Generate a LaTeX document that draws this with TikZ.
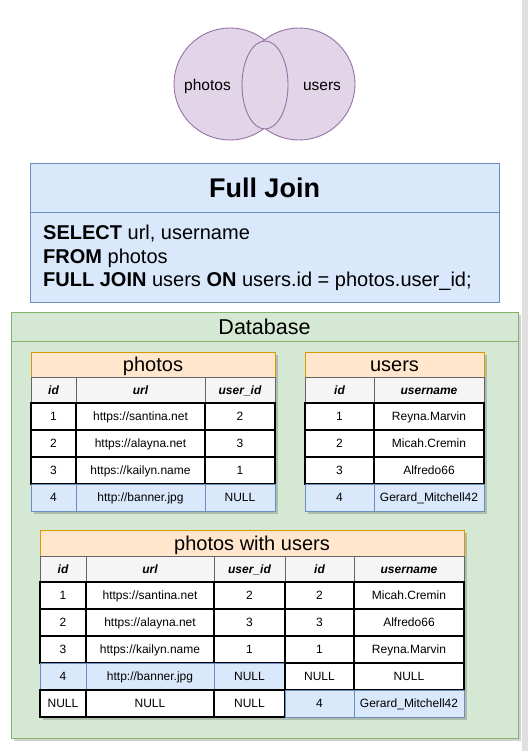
\documentclass[tikz,border=0pt]{standalone}
\usepackage{fontspec}
\setmainfont{Liberation Sans}
\usepackage{xcolor}
\usepackage{tikz}
\usetikzlibrary{shapes.geometric}
\definecolor{vennfill}{HTML}{E1D5E7}
\definecolor{vennline}{HTML}{9673A6}
\definecolor{bluefill}{HTML}{DAE8FC}
\definecolor{blueline}{HTML}{6C8EBF}
\definecolor{greenfill}{HTML}{D5E8D4}
\definecolor{greenline}{HTML}{82B366}
\definecolor{orangefill}{HTML}{FFE6CC}
\definecolor{orangeline}{HTML}{D79B00}
\definecolor{headfill}{HTML}{F5F5F5}
\definecolor{headline}{HTML}{666666}
\tikzset{
  vennset/.style={circle, draw=vennline, fill=vennfill, line width=0.9pt, minimum size=112pt, inner sep=0pt},
  vennjoin/.style={ellipse, draw=vennline, fill=vennfill, line width=0.9pt, minimum width=46pt, minimum height=88pt, inner sep=0pt},
  vennlabel/.style={font=\fontsize{15.5}{18}\selectfont, text height=11.2pt, text depth=0pt},
  querybox/.style={draw=blueline, fill=bluefill, line width=0.9pt, anchor=north west, inner sep=0pt, outer sep=0pt},
  dbbox/.style={draw=greenline, fill=greenfill, line width=0.9pt, anchor=north west, inner sep=0pt, outer sep=0pt},
  dropshade/.style={fill=black, opacity=0.18},
  tabtitle/.style={draw=orangeline, fill=orangefill, line width=0.9pt, anchor=north west, inner sep=0pt, outer sep=0pt,
    minimum height=25pt, font=\fontsize{20}{24}\selectfont, text height=14.4pt, text depth=0pt},
  colhead/.style={draw=headline, fill=headfill, line width=0.9pt, anchor=north west, inner sep=0pt, outer sep=0pt,
    minimum height=26pt, font=\fontsize{12}{14}\selectfont\bfseries\itshape, text height=8.6pt, text depth=0pt},
  cell/.style={draw=black, fill=white, line width=1.3pt, anchor=north west, inner sep=0pt, outer sep=0pt,
    minimum height=27pt, font=\fontsize{12}{14}\selectfont, text height=8.6pt, text depth=0pt},
  hicell/.style={cell, draw=blueline, fill=bluefill, line width=1pt},
}

\begin{document}
\begin{tikzpicture}[x=1pt, y=-1pt]
\useasboundingbox (0,0) rectangle (528,751);
\fill[white] (0,0) rectangle (528,751);

% venn diagram
\node[vennset] (photoset) at (230,84) {};
\node[vennset] (userset) at (299,84) {};
\node[vennjoin] (joinset) at (265,85) {};
\node[vennlabel] (photolabel) at (207.5,85) {photos};
\node[vennlabel] (userlabel) at (322,85) {users};

% query box
\node[querybox, minimum width=469pt, minimum height=49pt, font=\fontsize{27}{30}\selectfont\bfseries,
  text height=19.4pt, text depth=0pt] (qhead) at (30,163) {Full Join};
\node[querybox, minimum width=469pt, minimum height=90pt] (qbody) at (30,212) {};
\node[anchor=west, align=left, inner sep=0pt, font=\fontsize{20}{23.5}\selectfont] (query) at (43,258)
  {\textbf{SELECT} url, username\\ \textbf{FROM} photos\\ \textbf{FULL JOIN} users \textbf{ON} users.id = photos.user\_id;};

% database container
\fill[dropshade] (14,315) rectangle (521,741);
\node[dbbox, minimum width=507pt, minimum height=29pt, font=\fontsize{21.5}{25}\selectfont,
  text height=15.5pt, text depth=0pt] (dbhead) at (11,312) {Database};
\node[dbbox, minimum width=507pt, minimum height=397pt] (dbbody) at (11,341) {};

% photos table
\fill[dropshade] (34,355) rectangle (278,514);
\node[tabtitle, minimum width=244pt] (ptitle) at (31,352) {photos};
\node[colhead, minimum width=45pt] (ph1) at (31,377) {id};
\node[colhead, minimum width=129pt] (ph2) at (76,377) {url};
\node[colhead, minimum width=70pt] (ph3) at (205,377) {user\_id};
\node[cell, minimum width=45pt] (p11) at (31,403) {1};
\node[cell, minimum width=129pt] (p12) at (76,403) {https://santina.net};
\node[cell, minimum width=70pt] (p13) at (205,403) {2};
\node[cell, minimum width=45pt] (p21) at (31,430) {2};
\node[cell, minimum width=129pt] (p22) at (76,430) {https://alayna.net};
\node[cell, minimum width=70pt] (p23) at (205,430) {3};
\node[cell, minimum width=45pt] (p31) at (31,457) {3};
\node[cell, minimum width=129pt] (p32) at (76,457) {https://kailyn.name};
\node[cell, minimum width=70pt] (p33) at (205,457) {1};
\node[hicell, minimum width=45pt] (p41) at (31,484) {4};
\node[hicell, minimum width=129pt] (p42) at (76,484) {http://banner.jpg};
\node[hicell, minimum width=70pt] (p43) at (205,484) {NULL};

% users table
\fill[dropshade] (308,355) rectangle (487,514);
\node[tabtitle, minimum width=179pt] (utitle) at (305,352) {users};
\node[colhead, minimum width=69pt] (uh1) at (305,377) {id};
\node[colhead, minimum width=110pt] (uh2) at (374,377) {username};
\node[cell, minimum width=69pt] (u11) at (305,403) {1};
\node[cell, minimum width=110pt] (u12) at (374,403) {Reyna.Marvin};
\node[cell, minimum width=69pt] (u21) at (305,430) {2};
\node[cell, minimum width=110pt] (u22) at (374,430) {Micah.Cremin};
\node[cell, minimum width=69pt] (u31) at (305,457) {3};
\node[cell, minimum width=110pt] (u32) at (374,457) {Alfredo66};
\node[hicell, minimum width=69pt] (u41) at (305,484) {4};
\node[hicell, minimum width=110pt] (u42) at (374,484) {Gerard\_Mitchell42};

% photos with users table
\fill[dropshade] (43,533) rectangle (467,720);
\node[tabtitle, minimum width=424pt, minimum height=26pt] (rtitle) at (40,530) {photos with users};
\node[colhead, minimum width=46pt] (rh1) at (40,556) {id};
\node[colhead, minimum width=128pt] (rh2) at (86,556) {url};
\node[colhead, minimum width=71pt] (rh3) at (214,556) {user\_id};
\node[colhead, minimum width=69pt] (rh4) at (285,556) {id};
\node[colhead, minimum width=110pt] (rh5) at (354,556) {username};
\node[cell, minimum width=46pt] (r11) at (40,582) {1};
\node[cell, minimum width=128pt] (r12) at (86,582) {https://santina.net};
\node[cell, minimum width=71pt] (r13) at (214,582) {2};
\node[cell, minimum width=69pt] (r14) at (285,582) {2};
\node[cell, minimum width=110pt] (r15) at (354,582) {Micah.Cremin};
\node[cell, minimum width=46pt] (r21) at (40,609) {2};
\node[cell, minimum width=128pt] (r22) at (86,609) {https://alayna.net};
\node[cell, minimum width=71pt] (r23) at (214,609) {3};
\node[cell, minimum width=69pt] (r24) at (285,609) {3};
\node[cell, minimum width=110pt] (r25) at (354,609) {Alfredo66};
\node[cell, minimum width=46pt] (r31) at (40,636) {3};
\node[cell, minimum width=128pt] (r32) at (86,636) {https://kailyn.name};
\node[cell, minimum width=71pt] (r33) at (214,636) {1};
\node[cell, minimum width=69pt] (r34) at (285,636) {1};
\node[cell, minimum width=110pt] (r35) at (354,636) {Reyna.Marvin};
\node[hicell, minimum width=46pt] (r41) at (40,663) {4};
\node[hicell, minimum width=128pt] (r42) at (86,663) {http://banner.jpg};
\node[hicell, minimum width=71pt] (r43) at (214,663) {NULL};
\node[cell, minimum width=69pt] (r44) at (285,663) {NULL};
\node[cell, minimum width=110pt] (r45) at (354,663) {NULL};
\node[cell, minimum width=46pt] (r51) at (40,690) {NULL};
\node[cell, minimum width=128pt] (r52) at (86,690) {NULL};
\node[cell, minimum width=71pt] (r53) at (214,690) {NULL};
\node[hicell, minimum width=69pt] (r54) at (285,690) {4};
\node[hicell, minimum width=110pt] (r55) at (354,690) {Gerard\_Mitchell42};

% page edge
\fill[black!12] (522,0) rectangle (528,751);
\end{tikzpicture}
\end{document}
